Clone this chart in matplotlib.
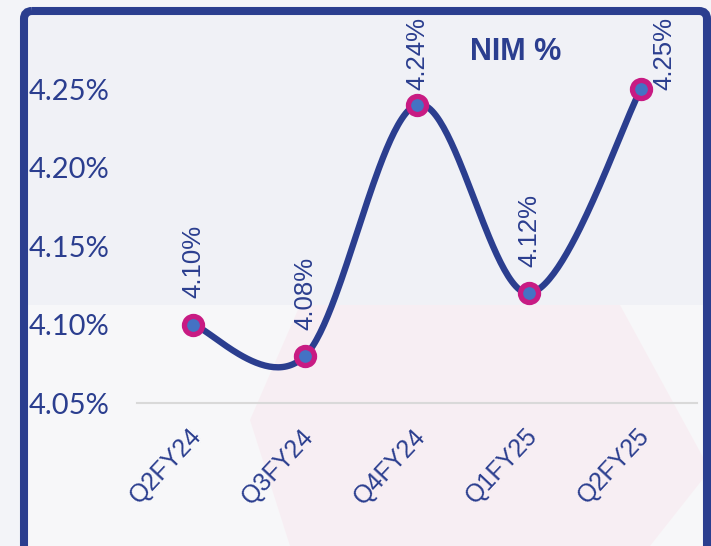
import numpy as np
import matplotlib
matplotlib.use("Agg")
import matplotlib.pyplot as plt
from matplotlib.patches import FancyBboxPatch, Polygon, Rectangle

quarters = ["Q2FY24", "Q3FY24", "Q4FY24", "Q1FY25", "Q2FY25"]
nim = [4.10, 4.08, 4.24, 4.12, 4.25]
nim_labels = ["4.10%", "4.08%", "4.24%", "4.12%", "4.25%"]
yticks = [4.05, 4.10, 4.15, 4.20, 4.25]
ytick_labels = ["4.05%", "4.10%", "4.15%", "4.20%", "4.25%"]

NAVY = "#2B3E8F"
MAGENTA = "#C81B83"
DOT = "#4472C4"
W, H = 711, 546


def smooth(xs, ys, n=60):
    # excel-style smoothed line: cubic bezier, catmull-rom control points
    xs = np.asarray(xs, float)
    ys = np.asarray(ys, float)
    px = np.concatenate([[xs[0]], xs, [xs[-1]]])
    py = np.concatenate([[ys[0]], ys, [ys[-1]]])
    outx, outy = [], []
    t = np.linspace(0, 1, n)
    for i in range(len(xs) - 1):
        x0, y0 = px[i + 1], py[i + 1]
        x3, y3 = px[i + 2], py[i + 2]
        x1 = x0 + (px[i + 2] - px[i]) / 6
        y1 = y0 + (py[i + 2] - py[i]) / 6
        x2 = x3 - (px[i + 3] - px[i + 1]) / 6
        y2 = y3 - (py[i + 3] - py[i + 1]) / 6
        b = [(1 - t) ** 3, 3 * (1 - t) ** 2 * t, 3 * (1 - t) * t ** 2, t ** 3]
        outx.append(b[0] * x0 + b[1] * x1 + b[2] * x2 + b[3] * x3)
        outy.append(b[0] * y0 + b[1] * y1 + b[2] * y2 + b[3] * y3)
    return np.concatenate(outx), np.concatenate(outy)


fig = plt.figure(figsize=(7.11, 5.46), dpi=100, facecolor="#F3F4F8")

# background layer in pixel coords (y down)
bg = fig.add_axes([0, 0, 1, 1], zorder=-10)
bg.set_xlim(0, W)
bg.set_ylim(H, 0)
bg.axis("off")
bg.add_patch(Rectangle((24, 11), 683, 540, facecolor="#F7F7F9", edgecolor="none"))
bg.add_patch(Rectangle((24, 11), 683, 294, facecolor="#F0F1F6", edgecolor="none"))
bg.add_patch(Polygon([(300, 305), (620, 305), (710, 470), (650, 546), (290, 546), (250, 420)],
                     closed=True, facecolor="#F8E9EF", edgecolor="none", alpha=0.6))

ax = fig.add_axes([137 / W, 1 - 403 / H, 560 / W, 343 / H])
ax.set_facecolor("none")
ax.set_xlim(-0.5, 4.5)
ax.set_ylim(4.05, 4.2685)

x = np.arange(len(quarters))
sx, sy = smooth(x, nim)
ax.plot(sx, sy, color=NAVY, lw=4.6, solid_capstyle="round", zorder=3)
ax.plot(x, nim, ls="none", marker="o", ms=13, mfc=DOT, mec=MAGENTA, mew=3.8, zorder=4)

# data labels: above the point, pushed down / to the side when they would hit the frame
label_len = 78      # px, rough length of a rotated label
top_px = 17         # highest a label may reach (px from top)
for xi, yi, lab in zip(x, nim, nim_labels):
    py = H - ax.transData.transform((xi, yi))[1]
    if py - 27 - label_len >= top_px:
        ax.annotate(lab, (xi, yi), xytext=(0, 19), textcoords="offset points", rotation=90,
                    ha="center", va="bottom", fontsize=18.5, color=NAVY, family="Liberation Sans")
    else:
        dx = 0 if py - top_px - label_len >= 8 else 17
        ax.annotate(lab, (xi, 1 - top_px / H), xycoords=("data", "figure fraction"),
                    xytext=(dx, 0), textcoords="offset points", rotation=90,
                    ha="center", va="top", fontsize=18.5, color=NAVY, family="Liberation Sans")

ax.set_xticks(x)
ax.set_xticklabels([])
for xi, q in zip(x, quarters):
    ax.annotate(q, (xi, 0), xycoords=ax.get_xaxis_transform(), xytext=(3.5, -21),
                textcoords="offset points", rotation=47, ha="right", va="center",
                rotation_mode="anchor", fontsize=18, color=NAVY, family="Liberation Sans")
ax.set_yticks(yticks)
ax.set_yticklabels(ytick_labels, fontsize=21, color=NAVY, family="Lato", ha="left")
ax.tick_params(axis="y", length=0, pad=78)
ax.tick_params(axis="x", length=0)
for s in ["top", "right", "left"]:
    ax.spines[s].set_visible(False)
ax.spines["bottom"].set_color("#D9D9D9")
ax.spines["bottom"].set_linewidth(1.5)

fig.text(516 / W, 1 - 52 / H, "NIM %", ha="center", va="center", fontsize=22,
         fontweight="bold", color=NAVY, family="Liberation Sans")

# outer frame with rounded corner, on top
top = fig.add_axes([0, 0, 1, 1], zorder=10)
top.set_xlim(0, W)
top.set_ylim(H, 0)
top.axis("off")
top.patch.set_visible(False)
top.add_patch(FancyBboxPatch((24, 11), 683, 560, boxstyle="round,pad=0,rounding_size=8",
                             facecolor="none", edgecolor=NAVY, lw=5.8))

fig.savefig("out.png", dpi=100, facecolor=fig.get_facecolor())
